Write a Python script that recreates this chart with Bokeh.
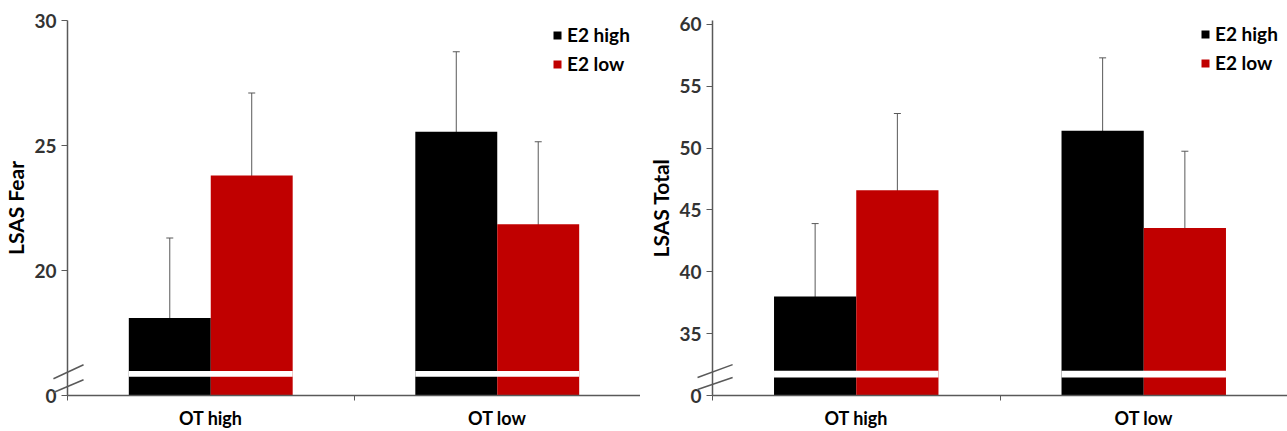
from bokeh.plotting import figure
from bokeh.models import (ColumnDataSource, FixedTicker, Whisker, Legend, LegendItem,
                          TeeHead, Range1d)
from bokeh.layouts import row
from bokeh.embed import file_html
from bokeh.resources import INLINE

# ---------------- data ----------------
categories = ["OT high", "OT low"]
series = ["E2 high", "E2 low"]

fear_e2_high = [18.1, 25.55]
fear_e2_low = [23.8, 21.85]
fear_err_e2_high = [3.2, 3.2]
fear_err_e2_low = [3.3, 3.3]

total_e2_high = [38.0, 51.4]
total_e2_low = [46.6, 43.55]
total_err_e2_high = [5.9, 5.9]
total_err_e2_low = [6.2, 6.2]

# broken axes: the lowest tick is the axis origin, labelled "0"
fear_ticks = [15, 20, 25, 30]
fear_tick_labels = ["0", "20", "25", "30"]
total_ticks = [30, 35, 40, 45, 50, 55, 60]
total_tick_labels = ["0", "35", "40", "45", "50", "55", "60"]

# ---------------- styling ----------------
BLACK = "#000000"
RED = "#C00000"
AXIS_COLOR = "#595959"
FONT = "Lato"
BAR_W = 0.286


def make_panel(ylabel, ticks, tick_labels, y_range, hi, lo, hi_err, lo_err,
               width, b_left, stripe, slash1, slash2, legend_loc):
    p = figure(output_backend="svg", toolbar_location=None,
               width=width, height=431,
               min_border_left=b_left, min_border_right=0,
               min_border_top=20, min_border_bottom=34,
               x_range=Range1d(0, len(categories)),
               y_range=Range1d(*y_range))
    p.outline_line_color = None
    p.xgrid.grid_line_color = None
    p.ygrid.grid_line_color = None
    p.background_fill_color = "white"

    xs = [i + 0.5 for i in range(len(categories))]
    base = y_range[0]
    src = ColumnDataSource(dict(
        x_hi=[x - BAR_W / 2 for x in xs], x_lo=[x + BAR_W / 2 for x in xs],
        hi=hi, lo=lo,
        hi_up=[v + e for v, e in zip(hi, hi_err)], hi_dn=[v - e for v, e in zip(hi, hi_err)],
        lo_up=[v + e for v, e in zip(lo, lo_err)], lo_dn=[v - e for v, e in zip(lo, lo_err)],
        grp_l=[x - BAR_W for x in xs], grp_r=[x + BAR_W for x in xs],
    ))
    r_hi = p.vbar(x="x_hi", top="hi", bottom=base, width=BAR_W, source=src,
                  fill_color=BLACK, line_color=None)
    r_lo = p.vbar(x="x_lo", top="lo", bottom=base, width=BAR_W, source=src,
                  fill_color=RED, line_color=None)

    for xcol, up, dn in (("x_hi", "hi_up", "hi_dn"), ("x_lo", "lo_up", "lo_dn")):
        w = Whisker(base=xcol, upper=up, lower=dn, source=src,
                    line_color=AXIS_COLOR, line_width=1,
                    upper_head=TeeHead(size=7, line_color=AXIS_COLOR, line_width=1),
                    lower_head=TeeHead(size=7, line_color=AXIS_COLOR, line_width=1))
        p.add_layout(w)

    # white stripe marking the axis break across the bars
    p.quad(left="grp_l", right="grp_r", bottom=stripe[0], top=stripe[1], source=src,
           fill_color="white", line_color=None)
    # break slashes on the y axis
    p.segment(x0=[slash1[0], slash2[0]], y0=[slash1[1], slash2[1]],
              x1=[slash1[2], slash2[2]], y1=[slash1[3], slash2[3]],
              line_color=AXIS_COLOR, line_width=1.5, level="overlay")

    # x axis
    xa = p.xaxis[0]
    xa.ticker = FixedTicker(ticks=xs, minor_ticks=list(range(len(categories) + 1)))
    xa.major_label_overrides = {x: c for x, c in zip(xs, categories)}
    xa.major_tick_out = 0
    xa.major_tick_in = 0
    xa.minor_tick_out = 5
    xa.minor_tick_in = 0
    xa.minor_tick_line_color = AXIS_COLOR
    xa.axis_line_color = AXIS_COLOR
    xa.axis_line_width = 1.5
    xa.major_label_text_font = FONT
    xa.major_label_text_font_style = "bold"
    xa.major_label_text_font_size = "18px"
    xa.major_label_text_color = "#000000"
    xa.major_label_standoff = 6

    # y axis
    ya = p.yaxis[0]
    ya.ticker = FixedTicker(ticks=ticks)
    ya.major_label_overrides = {t: l for t, l in zip(ticks, tick_labels)}
    ya.major_tick_out = 6
    ya.major_tick_in = 0
    ya.minor_tick_line_color = None
    ya.major_tick_line_color = AXIS_COLOR
    ya.axis_line_color = AXIS_COLOR
    ya.axis_line_width = 1.5
    ya.major_label_text_font = FONT
    ya.major_label_text_font_style = "bold"
    ya.major_label_text_font_size = "19px"
    ya.major_label_text_color = "#333333"
    ya.major_label_standoff = 5
    ya.axis_label = ylabel
    ya.axis_label_text_font = FONT
    ya.axis_label_text_font_style = "bold"
    ya.axis_label_text_font_size = "21px"
    ya.axis_label_text_color = "#000000"
    ya.axis_label_standoff = 3

    leg = Legend(items=[LegendItem(label=series[0], renderers=[r_hi]),
                        LegendItem(label=series[1], renderers=[r_lo])],
                 location=legend_loc, orientation="vertical",
                 glyph_width=10, glyph_height=10, label_standoff=5,
                 label_height=22, spacing=6, padding=0, margin=0,
                 border_line_color=None, background_fill_alpha=0,
                 label_text_font=FONT, label_text_font_style="bold",
                 label_text_font_size="19px", label_text_color="#000000")
    p.add_layout(leg)
    return p


left = make_panel("LSAS Fear", fear_ticks, fear_tick_labels, (15.0, 30.0),
                  fear_e2_high, fear_e2_low, fear_err_e2_high, fear_err_e2_low,
                  width=640, b_left=67,
                  stripe=(15.75, 15.98),
                  slash1=(-0.049, 15.67, 0.056, 16.23),
                  slash2=(-0.049, 15.12, 0.056, 15.63),
                  legend_loc=(485, 320))
right = make_panel("LSAS Total", total_ticks, total_tick_labels, (30.0, 60.32),
                   total_e2_high, total_e2_low, total_err_e2_high, total_err_e2_low,
                   width=647, b_left=72,
                   stripe=(31.45, 32.0),
                   slash1=(-0.052, 31.45, 0.07, 32.5),
                   slash2=(-0.052, 30.48, 0.07, 31.45),
                   legend_loc=(488, 321))

layout = row(left, right, spacing=0)
open("out.html", "w").write(file_html(layout, INLINE))
